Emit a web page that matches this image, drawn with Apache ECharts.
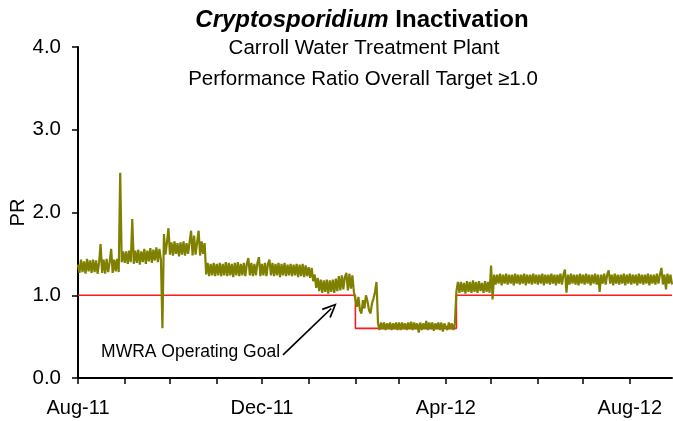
<!DOCTYPE html>
<html>
<head>
<meta charset="utf-8">
<script src="https://cdn.jsdelivr.net/npm/echarts@6/dist/echarts.min.js"></script>
<style>
html,body{margin:0;padding:0;background:#fff;}
#chart{width:673px;height:421px;}
</style>
</head>
<body>
<div id="chart"></div>
<script>
// ---- Data (daily Performance Ratio) ----
const startDay = [2011, 7, 1];           // Aug 1 2011, first daily reading
const prAug11 = [1.37,1.27,1.43,1.28,1.41,1.26,1.44,1.29,1.42,1.27,1.43,1.28,1.42,1.26,1.40,1.62,1.27,1.43,1.26,1.44,1.28,1.40,1.56,1.27,1.43,1.29,1.44,1.28,2.48,1.40,1.53];
const prSep11 = [1.39,1.53,1.38,1.54,1.40,1.92,1.38,1.54,1.39,1.55,1.37,1.53,1.40,1.56,1.38,1.54,1.41,1.57,1.39,1.55,1.42,1.58,1.40,1.56,1.43,0.60,1.74,1.49,1.64,1.81];
const prOct11 = [1.49,1.64,1.48,1.65,1.50,1.63,1.47,1.64,1.49,1.65,1.48,1.63,1.50,1.64,1.78,1.48,1.72,1.49,1.64,1.78,1.48,1.65,1.50,1.63,1.25,1.39,1.23,1.38,1.24,1.39,1.23];
const prNov11 = [1.38,1.24,1.39,1.23,1.38,1.24,1.40,1.23,1.39,1.24,1.38,1.22,1.39,1.24,1.40,1.23,1.38,1.24,1.39,1.23,1.38,1.45,1.24,1.39,1.23,1.38,1.24,1.39,1.46,1.23];
const prDec11 = [1.38,1.24,1.39,1.23,1.38,1.43,1.24,1.39,1.23,1.38,1.24,1.39,1.22,1.38,1.24,1.39,1.23,1.37,1.24,1.38,1.23,1.37,1.24,1.38,1.22,1.37,1.23,1.38,1.22,1.36,1.23];
const prJan12 = [1.34,1.21,1.33,1.17,1.25,1.09,1.21,1.05,1.19,1.03,1.18,1.04,1.19,1.02,1.18,1.04,1.19,1.03,1.20,1.05,1.23,1.06,1.24,1.07,1.22,1.27,1.06,1.26,1.08,1.24,1.04];
const prFeb12 = [1.02,0.86,0.98,0.82,0.78,0.94,0.84,1.00,0.93,0.82,0.78,0.90,0.96,1.04,1.16,0.66,0.58,0.67,0.59,0.67,0.58,0.66,0.59,0.67,0.58,0.66,0.59,0.67,0.58];
const prMar12 = [0.67,0.58,0.67,0.59,0.66,0.58,0.67,0.59,0.68,0.58,0.67,0.59,0.66,0.55,0.67,0.58,0.66,0.59,0.69,0.58,0.67,0.59,0.67,0.57,0.66,0.59,0.67,0.58,0.67,0.56,0.66];
const prApr12 = [0.66,0.58,0.67,0.59,0.66,0.58,0.66,1.05,1.16,1.03,1.16,1.04,1.15,1.02,1.17,1.04,1.16,1.03,1.18,1.04,1.16,1.03,1.17,1.05,1.15,1.03,1.17,1.04,1.16,1.03];
const prMay12 = [1.36,0.95,1.25,1.13,1.25,1.14,1.26,1.12,1.25,1.14,1.26,1.13,1.25,1.14,1.25,1.12,1.26,1.14,1.25,1.13,1.25,1.14,1.26,1.12,1.25,1.14,1.25,1.13,1.26,1.14,1.25];
const prJun12 = [1.13,1.25,1.14,1.26,1.12,1.25,1.14,1.25,1.13,1.26,1.14,1.25,1.12,1.25,1.14,1.26,1.13,1.25,1.31,1.03,1.25,1.13,1.26,1.14,1.25,1.13,1.25,1.12,1.26,1.14];
const prJul12 = [1.25,1.13,1.26,1.14,1.25,1.12,1.25,1.14,1.26,1.13,1.25,1.04,1.25,1.14,1.26,1.13,1.25,1.30,1.14,1.25,1.12,1.26,1.14,1.25,1.13,1.25,1.14,1.26,1.12,1.25,1.14];
const prAug12 = [1.26,1.13,1.25,1.14,1.25,1.12,1.26,1.14,1.25,1.13,1.25,1.14,1.26,1.12,1.25,1.14,1.25,1.13,1.26,1.14,1.25,1.33,1.13,1.25,1.07,1.26,1.14,1.25,1.13];

// MWRA operating goal (step changes)
const goalDates  = [[2011,7,1],[2012,1,1],[2012,3,8],[2012,7,29]];
const goalValues = [1.0, 0.6, 1.0, 1.0];

// Axis
const axisStart = [2011,7,1];
const axisEnd   = [2012,7,29];
const tickMonths = [[2011,7],[2011,8],[2011,9],[2011,10],[2011,11],[2012,0],[2012,1],[2012,2],[2012,3],[2012,4],[2012,5],[2012,6],[2012,7]];
const labelMonths = [[2011,7],[2011,11],[2012,3],[2012,7]];
const monthNames = ['Jan','Feb','Mar','Apr','May','Jun','Jul','Aug','Sep','Oct','Nov','Dec'];

// Annotation
const noteText = 'MWRA Operating Goal';
const noteFrom = [[2011,11,15], 0.28];
const noteTo   = [[2012,0,16], 0.84];

// ---- Build ----
const DAY = 86400000;
const ts = d => Date.UTC(d[0], d[1], d[2] || 1);
const prAll = [].concat(prAug11,prSep11,prOct11,prNov11,prDec11,prJan12,prFeb12,prMar12,prApr12,prMay12,prJun12,prJul12,prAug12);
const t0 = ts(startDay);
const prData = prAll.map((v, i) => [t0 + i * DAY, v]);
const goalData = goalDates.map((d, i) => [ts(d), goalValues[i]]);

const fam = '"Liberation Sans", Arial, sans-serif';
const chart = echarts.init(document.getElementById('chart'), null, {renderer: 'canvas'});
const option = {
  animation: false,
  backgroundColor: '#ffffff',
  grid: {left: 78, right: 1, top: 47, bottom: 43, containLabel: false, outerBoundsMode: 'none'},
  graphic: [
    {type: 'text', x: 362, y: 8, style: {
      text: '{i|Cryptosporidium}{b| Inactivation}', textAlign: 'center', textVerticalAlign: 'top',
      rich: {
        i: {fontFamily: fam, fontSize: 24, fontWeight: 'bold', fontStyle: 'italic', fill: '#000'},
        b: {fontFamily: fam, fontSize: 24, fontWeight: 'bold', fill: '#000'}
      }}},
    {type: 'text', x: 364, y: 38, style: {text: 'Carroll Water Treatment Plant', textAlign: 'center', textVerticalAlign: 'top', fontFamily: fam, fontSize: 20.5, fill: '#000'}},
    {type: 'text', x: 363, y: 69, style: {text: 'Performance Ratio Overall Target \u22651.0', textAlign: 'center', textVerticalAlign: 'top', fontFamily: fam, fontSize: 20.5, fill: '#000'}}
  ],
  xAxis: {
    type: 'value',
    min: ts(axisStart), max: ts(axisEnd),
    splitLine: {show: false},
    axisLine: {show: true, onZero: false, lineStyle: {color: '#000', width: 2}},
    axisTick: {show: true, length: 6, lineStyle: {color: '#000', width: 1.5},
      customValues: tickMonths.map(m => Date.UTC(m[0], m[1], 1))},
    axisLabel: {
      customValues: labelMonths.map(m => Date.UTC(m[0], m[1], 1)),
      formatter: v => { const d = new Date(v); return monthNames[d.getUTCMonth()] + '-' + String(d.getUTCFullYear()).slice(2); },
      fontFamily: fam, fontSize: 20, color: '#000', margin: 20, hideOverlap: false
    }
  },
  yAxis: {
    type: 'value', min: 0, max: 4, interval: 1,
    name: 'PR', nameLocation: 'middle', nameGap: 50, nameMoveOverlap: false,
    nameTextStyle: {fontFamily: fam, fontSize: 20, color: '#000'},
    splitLine: {show: false},
    axisLine: {show: true, lineStyle: {color: '#000', width: 2}},
    axisTick: {show: true, length: 6, lineStyle: {color: '#000', width: 1.5}},
    axisLabel: {formatter: v => v.toFixed(1), fontFamily: fam, fontSize: 20.5, color: '#000', margin: 17}
  },
  series: [
    {
      name: 'PR', type: 'line', data: prData, showSymbol: false, symbol: 'none',
      lineStyle: {color: '#808000', width: 2.2, join: 'bevel'}, z: 3
    },
    {
      name: 'Goal', type: 'line', data: goalData, step: 'end', showSymbol: false, symbol: 'none',
      lineStyle: {color: '#ff1a1a', width: 1.6}, z: 2,
      markLine: {
        silent: true, symbol: ['none', 'path://M0,12 L6,0 L12,12 L10.5,12.7 L6,3.3 L1.5,12.7 Z'], symbolSize: [13, 15],
        lineStyle: {color: '#000', width: 1.7, type: 'solid'}, label: {show: false},
        data: [[{coord: [ts(noteFrom[0]), noteFrom[1]]}, {coord: [ts(noteTo[0]), noteTo[1]]}]]
      },
      markPoint: {
        silent: true, symbol: 'circle', symbolSize: 0,
        label: {show: true, position: 'left', distance: 3, formatter: noteText, fontFamily: fam, fontSize: 17.5, color: '#000'},
        data: [{coord: [ts(noteFrom[0]), noteFrom[1] + 0.03]}]
      }
    }
  ]
};
chart.setOption(option);
</script>
</body>
</html>
